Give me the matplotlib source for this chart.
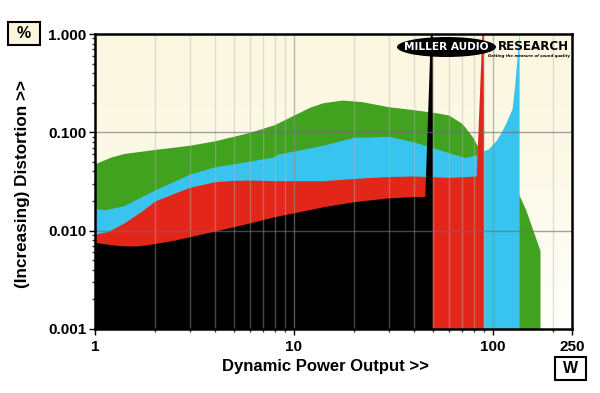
import numpy as np
import matplotlib
matplotlib.use("Agg")
import matplotlib.pyplot as plt
from matplotlib.patches import Ellipse, Rectangle
from matplotlib.ticker import FixedLocator, NullFormatter

# ---------------- data (power W, distortion %) ----------------
green_p = [1, 1.2, 1.4, 2.0, 3.0, 4.0, 6.0, 8.0, 10, 12, 14, 17.5, 22, 30, 40, 52, 60, 70, 79, 86, 100, 120, 135.5, 146, 172.6]
green_d = [0.048, 0.056, 0.061, 0.067, 0.074, 0.082, 0.100, 0.120, 0.150, 0.180, 0.200, 0.213, 0.205, 0.182, 0.170, 0.158, 0.150, 0.123, 0.090, 0.066, 0.055, 0.040, 0.023, 0.0165, 0.0063]

blue_p = [1, 1.12, 1.4, 2.0, 3.0, 4.0, 6.0, 8.0, 8.3, 14, 20, 30, 40, 58, 72, 82.6, 90, 95, 104, 110, 116, 125, 128.5, 133, 135, 135.5]
blue_d = [0.0168, 0.0163, 0.018, 0.026, 0.0377, 0.0447, 0.051, 0.0565, 0.060, 0.074, 0.089, 0.091, 0.080, 0.0635, 0.0556, 0.0588, 0.065, 0.068, 0.083, 0.100, 0.123, 0.175, 0.29, 0.64, 1.0, 1.0]

red_p = [1, 1.16, 1.4, 1.7, 2.0, 2.5, 3.0, 4.0, 5.0, 6.0, 8.0, 10, 14, 20, 30, 40, 60, 82.5, 88, 89.6]
red_d = [0.0092, 0.0098, 0.012, 0.0156, 0.020, 0.024, 0.0276, 0.0315, 0.0325, 0.0327, 0.0322, 0.0322, 0.0322, 0.034, 0.0355, 0.036, 0.0348, 0.036, 1.0, 1.0]

black_p = [1, 1.2, 1.4, 1.65, 2.0, 2.5, 3.0, 4.0, 5.0, 6.0, 8.0, 10, 14, 20, 30, 40, 45.5, 48.5, 49.6]
black_d = [0.0076, 0.0072, 0.0070, 0.0070, 0.0074, 0.0080, 0.0087, 0.0099, 0.0110, 0.0120, 0.0139, 0.0152, 0.0175, 0.0197, 0.0216, 0.0222, 0.0223, 1.0, 1.0]

y_ticks = [0.001, 0.01, 0.1, 1.0]
y_labels = ["0.001", "0.010", "0.100", "1.000"]
x_ticks = [1, 10, 100, 250]
x_labels = ["1", "10", "100", "250"]

FONT = "Liberation Sans"
W, H = 600, 393
fig = plt.figure(figsize=(6, 3.93), dpi=100)
fig.patch.set_facecolor("white")
ax = fig.add_axes([95 / W, 1 - 329 / H, (572 - 95) / W, (329 - 34) / H])
ax.set_xscale("log")
ax.set_yscale("log")

# background gradient
top = np.array([251, 247, 224]) / 255
bot = np.array([255, 255, 252]) / 255
t = np.linspace(0, 1, 256)[:, None] ** 1.5
grad = (top[None, :] * (1 - t) + bot[None, :] * t)[:, None, :]
ax.imshow(grad, extent=[0, 1, 0, 1], transform=ax.transAxes, aspect="auto", zorder=0)
ax.set_xlim(1, 250)
ax.set_ylim(0.001, 1.0)

base = 0.001
ax.fill_between(green_p, green_d, base, color="#40A21E", lw=0, zorder=1)
ax.fill_between(blue_p, blue_d, base, color="#38C4EE", lw=0, zorder=2)
ax.fill_between(red_p, red_d, base, color="#E3261A", lw=0, zorder=3)
ax.fill_between(black_p, black_d, base, color="#000000", lw=0, zorder=4)

# grid lines on top
minor_x = [2, 3, 4, 5, 6, 7, 8, 9, 20, 30, 40, 50, 60, 70, 80, 90, 200]
for xv in minor_x:
    ax.axvline(xv, color=(0.7, 0.7, 0.7), alpha=0.4, lw=1, zorder=5)
for xv in [10, 100]:
    ax.axvline(xv, color=(0.55, 0.55, 0.55), alpha=0.6, lw=1, zorder=5)
for yv in [0.01, 0.1]:
    ax.axhline(yv, color=(0.43, 0.43, 0.43), alpha=0.64, lw=1, zorder=5)

for s in ax.spines.values():
    s.set_linewidth(1.8)
    s.set_color("black")
    s.set_zorder(10)

ax.yaxis.set_major_locator(FixedLocator(y_ticks))
ax.set_yticklabels(y_labels)
ym = [m * d for d in [0.001, 0.01, 0.1] for m in range(2, 10)]
ax.yaxis.set_minor_locator(FixedLocator(ym))
ax.yaxis.set_minor_formatter(NullFormatter())
ax.xaxis.set_major_locator(FixedLocator(x_ticks))
ax.set_xticklabels(x_labels)
xm = [2, 3, 4, 5, 6, 7, 8, 9, 20, 30, 40, 50, 60, 70, 80, 90, 200]
ax.xaxis.set_minor_locator(FixedLocator(xm))
ax.xaxis.set_minor_formatter(NullFormatter())
ax.tick_params(axis="both", which="major", direction="out", length=4, width=1, pad=2, color="black")
ax.tick_params(axis="both", which="minor", direction="out", length=2.5, width=1, color="#333333")
for lab in ax.get_yticklabels() + ax.get_xticklabels():
    lab.set_fontfamily(FONT)
    lab.set_fontweight("bold")
    lab.set_fontsize(11)
ax.tick_params(axis="x", which="major", pad=4)

# axis labels
fig.text(325 / W, 1 - 366 / H, "Dynamic Power Output >>", family=FONT, weight="bold",
         fontsize=12, ha="center", va="center")
fig.text(23 / W, 1 - 184 / H, "(Increasing) Distortion >>", family=FONT, weight="bold",
         fontsize=12.3, ha="center", va="center", rotation=90)

# unit boxes
fig.add_artist(Rectangle((8 / W, 1 - 45 / H), 32 / W, 23 / H, transform=fig.transFigure,
                         facecolor="#FBF6DC", edgecolor="black", lw=1.5))
fig.text(24 / W, 1 - 33.5 / H, "%", family=FONT, weight="bold", fontsize=11.5, ha="center", va="center")
fig.add_artist(Rectangle((555 / W, 1 - 380 / H), 31 / W, 23 / H, transform=fig.transFigure,
                         facecolor="white", edgecolor="black", lw=1.5))
fig.text(570.5 / W, 1 - 368.5 / H, "W", family=FONT, weight="bold", fontsize=11.5, ha="center", va="center")

# logo
fig.add_artist(Ellipse((446.5 / W, 1 - 47 / H), 99 / W, 20 / H, transform=fig.transFigure,
                       facecolor="black", edgecolor="none", zorder=20))
fig.text(446.5 / W, 1 - 47 / H, "MILLER AUDIO", family="DejaVu Sans", weight="heavy",
         fontsize=7.6, color="white", ha="center", va="center", zorder=21)
fig.text(533 / W, 1 - 46.5 / H, "RESEARCH", family="DejaVu Sans", weight="heavy",
         fontsize=8.6, color="black", ha="center", va="center", zorder=21)
fig.text(529 / W, 1 - 56 / H, "Getting the measure of sound quality", family="DejaVu Sans",
         weight="bold", style="italic", fontsize=2.8, color="black", ha="center", va="center", zorder=21)

fig.savefig("out.png", dpi=100, facecolor="white")
